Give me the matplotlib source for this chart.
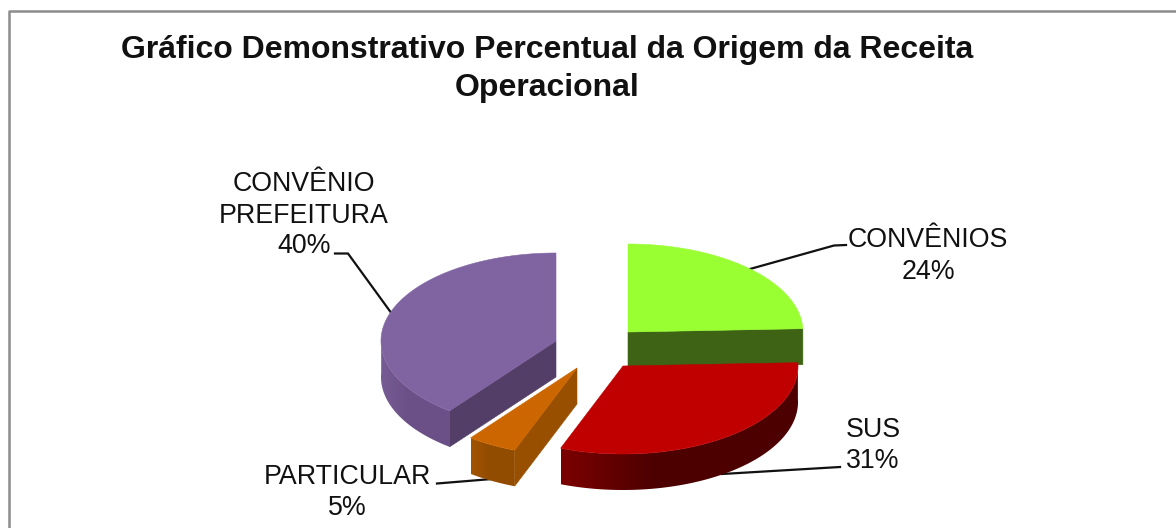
import numpy as np
import matplotlib
matplotlib.use("Agg")
import matplotlib.pyplot as plt
from matplotlib.colors import to_rgb
from matplotlib.patches import Polygon

plt.rcParams['font.family'] = ['Liberation Sans', 'DejaVu Sans']

# data, the shares come from the slice angles, the labels round them
labels = ['CONVÊNIOS', 'SUS', 'PARTICULAR', 'CONVÊNIO\nPREFEITURA']
values = [24.4, 31.4, 4.6, 39.6]
top_colors = ['#99ff33', '#c00000', '#cc6600', '#8064a2']
wall_colors = ['#3f6314', '#500000', '#994f00', '#523e66']
rim_left = ['#3f6314', '#7c0000', '#a35500', '#755c92']
rim_right = ['#3f6314', '#4c0000', '#924c00', '#6b5087']
# apex of each exploded slice, in pixels
centers = [(628, 332), (623, 366), (577, 368), (556, 341)]

rx, ry, depth = 175, 88, 36

fig = plt.figure(figsize=(11.76, 5.28), dpi=100)
ax = fig.add_axes([0, 0, 1, 1])


def rim(c, a):
    return c[0] + rx * np.cos(a), c[1] - ry * np.sin(a)


# start at 12 o'clock and go clockwise
edges = 90 - np.cumsum([0] + values) * 3.6


def draw_slice(i, z):
    c = centers[i]
    a0, a1 = np.radians(edges[i]), np.radians(edges[i + 1])
    a = np.linspace(a0, a1, 200)
    x, y = rim(c, a)

    # outer side, only the part facing front, with a left to right gradient
    front = np.sin(a) <= 0.05
    fx, fy = x[front], y[front]
    if i != 0 and len(fx) > 1:
        pts = list(zip(fx, fy)) + list(zip(fx[::-1], fy[::-1] + depth))
        poly = Polygon(pts, fc='none', ec='none', zorder=z)
        ax.add_patch(poly)
        t = np.clip(np.linspace(0, 1, 256) * 2.5, 0, 1)
        lc, rc = np.array(to_rgb(rim_left[i])), np.array(to_rgb(rim_right[i]))
        grad = (lc + (rc - lc) * t[:, None])[None, :, :]
        im = ax.imshow(grad, extent=(fx.min(), fx.max(), fy.max() + depth, fy.min()),
                       aspect='auto', interpolation='bilinear', zorder=z)
        im.set_clip_path(poly)

    # flat cut walls
    px, py = rim(c, a0)
    qx, qy = rim(c, a1)
    wall = None
    if i == 0:
        wall = [c, (qx, qy), (qx, qy + depth), (c[0], c[1] + depth)]
    elif i in (2, 3):
        wall = [c, (px, py), (px, py + depth), (c[0], c[1] + depth)]
    if wall:
        ax.add_patch(Polygon(wall, fc=wall_colors[i], ec=wall_colors[i], lw=0.4, zorder=z + 0.1))

    # top face
    top = [c] + list(zip(x, y))
    ax.add_patch(Polygon(top, fc=top_colors[i], ec=top_colors[i], lw=0.4, zorder=z + 0.2))


# leader lines go under the slices
line_col = '#111111'
ax.plot([335, 348, 392], [253.5, 253.5, 314], color=line_col, lw=1.6, zorder=1)
ax.plot([846, 834, 750], [245, 245.5, 269], color=line_col, lw=1.6, zorder=1)
ax.plot([840, 722], [467, 474], color=line_col, lw=1.6, zorder=1)
ax.plot([437, 492], [483.5, 479], color=line_col, lw=1.6, zorder=1)

draw_slice(3, 2)
draw_slice(2, 3)
draw_slice(0, 4)
draw_slice(1, 5)

# frame, the right side is cut off in the picture
ax.plot([9, 9, 1176], [528, 10.5, 10.5], color='#8c8c8c', lw=1.8, zorder=6)

ax.text(547.5, 58, 'Gráfico Demonstrativo Percentual da Origem da Receita',
        ha='center', va='baseline', fontsize=23, fontweight='bold', color='#111111')
ax.text(547.5, 96, 'Operacional', ha='center', va='baseline', fontsize=23,
        fontweight='bold', color='#111111')

label_size = 19.3
first, second = labels[3].split('\n')
ax.text(304, 191, first, ha='center', va='baseline', fontsize=label_size, color='#111111')
ax.text(304, 223, second, ha='center', va='baseline', fontsize=label_size, color='#111111')
ax.text(304, 253, f'{values[3]:.0f}%', ha='center', va='baseline', fontsize=label_size, color='#111111')
ax.text(928, 247, labels[0], ha='center', va='baseline', fontsize=label_size, color='#111111')
ax.text(928, 279, f'{values[0]:.0f}%', ha='center', va='baseline', fontsize=label_size, color='#111111')
ax.text(873, 437, labels[1], ha='center', va='baseline', fontsize=label_size, color='#111111')
ax.text(873, 468, f'{values[1]:.0f}%', ha='center', va='baseline', fontsize=label_size, color='#111111')
ax.text(347, 484, labels[2], ha='center', va='baseline', fontsize=label_size, color='#111111')
ax.text(347, 515, f'{values[2]:.0f}%', ha='center', va='baseline', fontsize=label_size, color='#111111')

ax.set_xlim(0, 1176)
ax.set_ylim(528, 0)
ax.axis('off')

fig.savefig('out.png', dpi=100)
